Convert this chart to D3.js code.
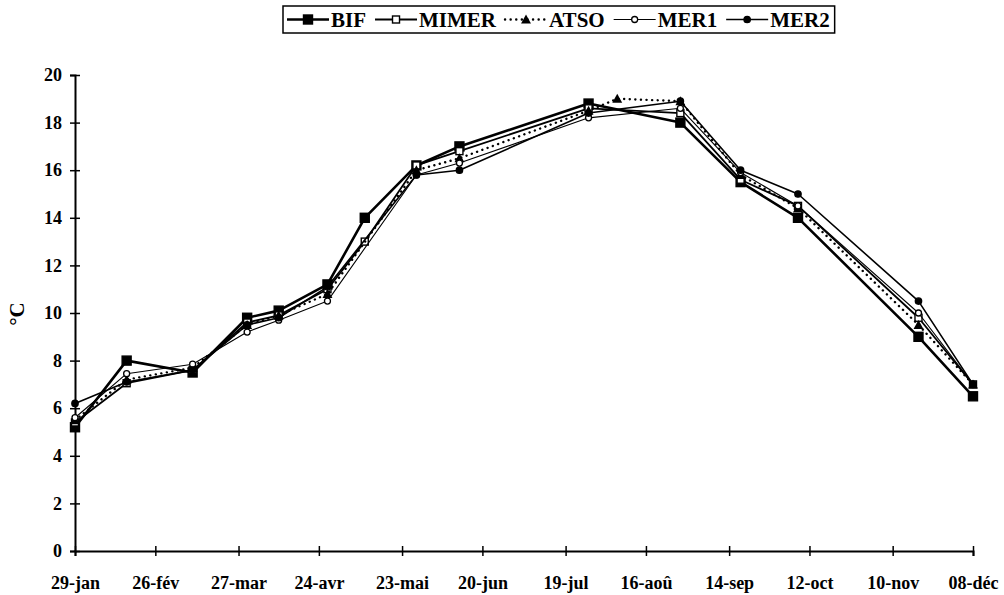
<!DOCTYPE html>
<html>
<head>
<meta charset="utf-8">
<script src="https://cdn.jsdelivr.net/npm/d3@7"></script>
<style>
  body { margin: 0; background: #fff; }
  svg text { font-family: "Liberation Serif", "Times New Roman", "DejaVu Serif", serif; font-weight: bold; fill: #000; }
</style>
</head>
<body>
<div id="chart"></div>
<script>
// sampling dates (year arbitrary, non-leap)
const dates = ["1997-01-29", "1997-02-16", "1997-03-11", "1997-03-30", "1997-04-10", "1997-04-27",
    "1997-05-10", "1997-05-28", "1997-06-12", "1997-07-27", "1997-08-06", "1997-08-28",
    "1997-09-18", "1997-10-08", "1997-11-19", "1997-12-08"];

const bif   = [5.2, 8.0, 7.5, 9.8, 10.1, 11.2, 14.0, 16.2, 17.0, 18.8, null, 18.0, 15.5, 14.0, 9.0, 6.5];
const mimer = [5.4, 7.05, 7.6, 9.6, 9.9, 11.0, 13.0, 16.2, 16.8, 18.6, null, 18.4, 15.6, 14.5, 9.8, 7.0];
const atso  = [5.5, 7.2, 7.7, 9.5, 9.9, 10.8, null, 16.0, 16.5, 18.5, 19.0, 18.9, 15.8, 14.4, 9.5, 7.0];
const mer1  = [5.6, 7.45, 7.85, 9.2, 9.7, 10.5, null, 15.8, 16.3, 18.2, null, 18.6, 15.9, 14.5, 10.0, 7.0];
const mer2  = [6.2, 7.1, 7.6, 9.5, 9.8, 11.1, null, 15.8, 16.0, 18.4, null, 18.9, 16.0, 15.0, 10.5, 7.0];

const tickDates  = ["1997-01-29", "1997-02-26", "1997-03-27", "1997-04-24", "1997-05-23", "1997-06-20",
    "1997-07-19", "1997-08-16", "1997-09-14", "1997-10-12", "1997-11-10", "1997-12-08"];
const tickLabels = ["29-jan", "26-fév", "27-mar", "24-avr", "23-mai", "20-jun",
    "19-jul", "16-aoû", "14-sep", "12-oct", "10-nov", "08-déc"];
const yTicks = [0, 2, 4, 6, 8, 10, 12, 14, 16, 18, 20];

const seriesNames = ["BIF", "MIMER", "ATSO", "MER1", "MER2"];
const seriesValues = [bif, mimer, atso, mer1, mer2];

const W = 1004, H = 595;
const FONT = "'Liberation Serif', 'Times New Roman', 'DejaVu Serif', serif";
const parse = d3.timeParse("%Y-%m-%d");

const svg = d3.select("#chart").append("svg")
    .attr("width", W)
    .attr("height", H);

// scales
const x = d3.scaleTime()
    .domain([parse(tickDates[0]), parse(tickDates[tickDates.length - 1])])
    .range([75, 973]);
const y = d3.scaleLinear()
    .domain([0, 20])
    .range([551, 75]);

// styles per series
const styles = {
    BIF:   {width: 2.6, dash: null, marker: "square", size: 9, fill: "#000"},
    MIMER: {width: 1.8, dash: null, marker: "square", size: 7, fill: "#fff"},
    ATSO:  {width: 2.4, dash: "0.1,5.5", marker: "triangle", size: 9, fill: "#000"},
    MER1:  {width: 1.1, dash: null, marker: "circle", size: 3, fill: "#fff"},
    MER2:  {width: 1.6, dash: null, marker: "circle", size: 3.2, fill: "#000"}
};

function drawMarker(g, st, cx, cy) {
    if (st.marker === "square") {
        g.append("rect")
            .attr("x", cx - st.size / 2).attr("y", cy - st.size / 2)
            .attr("width", st.size).attr("height", st.size)
            .attr("fill", st.fill).attr("stroke", "#000").attr("stroke-width", 1.4);
    } else if (st.marker === "triangle") {
        const s = st.size;
        g.append("path")
            .attr("d", `M${cx},${cy - s * 0.55}L${cx + s * 0.55},${cy + s * 0.45}L${cx - s * 0.55},${cy + s * 0.45}Z`)
            .attr("fill", st.fill);
    } else {
        g.append("circle")
            .attr("cx", cx).attr("cy", cy).attr("r", st.size)
            .attr("fill", st.fill).attr("stroke", "#000").attr("stroke-width", 1.3);
    }
}

// axes
const yAxis = d3.axisLeft(y).tickValues(yTicks).tickSize(5).tickPadding(8);
const yAxisGroup = svg.append("g")
    .attr("class", "y-axis")
    .attr("transform", "translate(75,0)")
    .call(yAxis);
yAxisGroup.selectAll(".tick line").attr("x1", 5).attr("stroke-width", 1.5);

const xAxis = d3.axisBottom(x)
    .tickValues(tickDates.map(parse))
    .tickFormat((d, i) => tickLabels[i])
    .tickSize(5).tickPadding(20);
const xAxisGroup = svg.append("g")
    .attr("class", "x-axis")
    .attr("transform", "translate(0,551)")
    .call(xAxis);
xAxisGroup.selectAll(".tick line").attr("y1", -5).attr("stroke-width", 1.5);

svg.selectAll(".y-axis, .x-axis").attr("font-family", null);
svg.selectAll(".domain").attr("stroke-width", 2);
svg.selectAll(".tick text")
    .style("font-family", FONT)
    .style("font-weight", "bold")
    .style("font-size", "18px");

// y label
svg.append("text")
    .attr("transform", "translate(24,314) rotate(-90)")
    .attr("text-anchor", "middle")
    .style("font-family", FONT)
    .style("font-size", "21px")
    .text("°C");

// lines
const line = d3.line()
    .x(d => x(d.date))
    .y(d => y(d.v));

seriesNames.forEach((name, k) => {
    const st = styles[name];
    const pts = dates.map((d, i) => ({date: parse(d), v: seriesValues[k][i]}))
        .filter(p => p.v !== null);
    const g = svg.append("g").attr("class", "series");
    g.append("path")
        .datum(pts)
        .attr("d", line)
        .attr("fill", "none")
        .attr("stroke", "#000")
        .attr("stroke-width", st.width)
        .attr("stroke-linecap", st.dash ? "round" : "butt")
        .attr("stroke-linejoin", "round")
        .attr("stroke-dasharray", st.dash);
    pts.forEach(p => drawMarker(g, st, x(p.date), y(p.v)));
});

// legend
const legend = svg.append("g").attr("class", "legend");
const legX = 283, legY = 6, legH = 27;
let cx = legX + 4;
seriesNames.forEach(name => {
    const st = styles[name];
    const g = legend.append("g");
    g.append("line")
        .attr("x1", cx).attr("x2", cx + 42)
        .attr("y1", legY + legH / 2).attr("y2", legY + legH / 2)
        .attr("stroke", "#000")
        .attr("stroke-width", st.width)
        .attr("stroke-linecap", st.dash ? "round" : "butt")
        .attr("stroke-dasharray", st.dash);
    drawMarker(g, st, cx + 21, legY + legH / 2);
    const t = g.append("text")
        .attr("x", cx + 44)
        .attr("y", legY + legH / 2 + 7)
        .style("font-family", FONT)
        .style("font-size", "21px")
        .text(name);
    cx += 44 + t.node().getComputedTextLength() + 9;
});
legend.insert("rect", ":first-child")
    .attr("x", legX).attr("y", legY)
    .attr("width", cx - legX - 4).attr("height", legH)
    .attr("fill", "#fff").attr("stroke", "#000").attr("stroke-width", 1.5);
</script>
</body>
</html>
